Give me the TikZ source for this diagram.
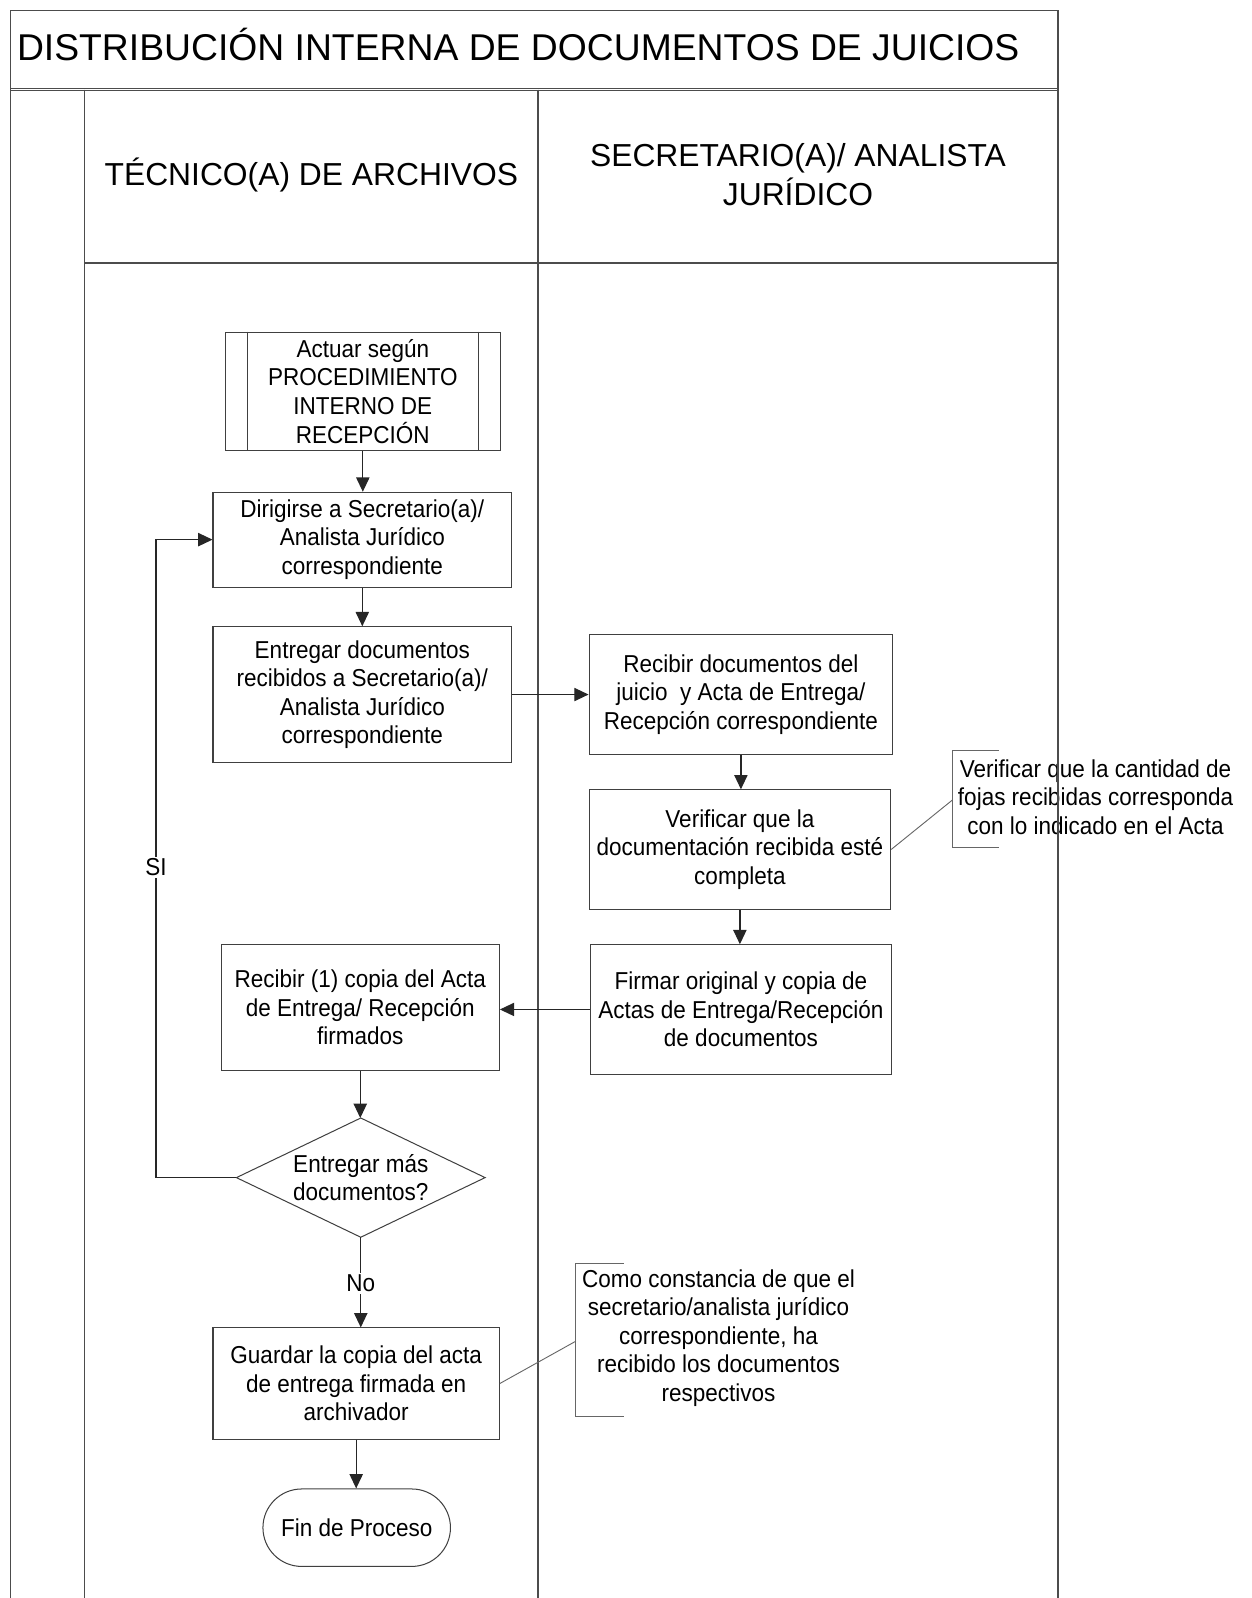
\documentclass[tikz,border=0pt]{standalone}
\usepackage{fontspec}
\setmainfont{Liberation Sans}
\newfontfamily\bodyfam{Liberation Sans}[FakeStretch=0.92]
\usetikzlibrary{arrows.meta}
\definecolor{boxc}{gray}{0.25}
\definecolor{framec}{gray}{0.3}
\definecolor{notec}{gray}{0.4}
\newcommand{\bodyfont}{\bodyfam\fontsize{24}{28}\selectfont}
\newcommand{\headfont}{\fontsize{31.2}{38}\selectfont}
\newcommand{\titlefont}{\fontsize{36.6}{40}\selectfont}
\begin{document}
\begin{tikzpicture}[x=1pt,y=-1pt,
  box/.style={draw=boxc, line width=1pt, rectangle, inner sep=0pt, align=center, font=\bodyfont},
  txt/.style={inner sep=0pt, align=center, font=\bodyfont},
  lbl/.style={inner sep=2pt, fill=white, font=\bodyfont},
  arr/.style={draw=black!85, line width=1.2pt, -{Triangle[length=14pt,width=13pt]}},
  note/.style={draw=notec, line width=0.9pt},
  frame/.style={draw=framec, line width=1.3pt}]
\useasboundingbox (0,0) rectangle (1228,1568);

% frame and lanes
\draw[frame] (10,1568) -- (10,10) -- (1038,10) -- (1038,1568);
\draw[frame, line width=1pt] (10,86.5) -- (1038,86.5);
\draw[frame, line width=1pt] (10,89) -- (1038,89);
\draw[frame] (83,88) -- (83,1568);
\draw[frame] (528,88) -- (528,1568);
\draw[frame] (83,258) -- (1038,258);

\node[inner sep=0pt, anchor=base west, font=\titlefont] (title) at (16.5,59) {DISTRIBUCIÓN INTERNA DE DOCUMENTOS DE JUICIOS};
\node[inner sep=0pt, align=center, font=\headfont] (h1) at (305.5,172) {TÉCNICO(A) DE ARCHIVOS};
\node[inner sep=0pt, align=center, font=\headfont] (h2) at (783,171) {SECRETARIO(A)/ ANALISTA\\JURÍDICO};

% nodes
\node[box, minimum width=270pt, minimum height=116pt] (n1) at (356,384) {Actuar según\\PROCEDIMIENTO\\INTERNO DE\\RECEPCIÓN};
\draw[draw=boxc, line width=1pt] ([xshift=22pt]n1.north west) -- ([xshift=22pt]n1.south west);
\draw[draw=boxc, line width=1pt] ([xshift=-22pt]n1.north east) -- ([xshift=-22pt]n1.south east);

\node[box, minimum width=293pt, minimum height=93pt] (n2) at (355.5,529.5) {Dirigirse a Secretario(a)/\\Analista Jurídico\\correspondiente};
\node[box, minimum width=293pt, minimum height=133pt] (n3) at (355.5,681.5) {Entregar documentos\\recibidos a Secretario(a)/\\Analista Jurídico\\correspondiente};
\node[box, minimum width=298pt, minimum height=117pt] (n4) at (727,681.5) {Recibir documentos del\\juicio\ \ y Acta de Entrega/\\Recepción correspondiente};
\node[box, minimum width=296pt, minimum height=117pt] (n5) at (726,833.5) {Verificar que la\\documentación recibida esté\\completa};
\node[box, minimum width=296pt, minimum height=127pt] (n6) at (727,990.5) {Firmar original y copia de\\Actas de Entrega/Recepción\\de documentos};
\node[box, minimum width=273pt, minimum height=123pt] (n7) at (353.5,988.5) {Recibir (1) copia del Acta\\de Entrega/ Recepción\\firmados};

% decision
\node[txt] (d) at (354,1155.5) {Entregar más\\documentos?};
\coordinate (dT) at (354,1097);
\coordinate (dB) at (354,1214);
\coordinate (dL) at (232,1155.5);
\coordinate (dR) at (476,1155.5);
\draw[draw=boxc, line width=1pt] (dT) -- (dR) -- (dB) -- (dL) -- cycle;

\node[box, minimum width=281pt, minimum height=109pt] (n9) at (349.5,1357.5) {Guardar la copia del acta\\de entrega firmada en\\archivador};
\node[box, minimum width=184pt, minimum height=76pt, rounded corners=38pt] (n10) at (350,1499) {Fin de Proceso};

% connectors
\draw[arr] (n1.south) -- (n1.south |- n2.north);
\draw[arr] (n2.south) -- (n2.south |- n3.north);
\draw[arr] (n3.east) -- (n4.west);
\draw[arr] (n4.south) -- (n4.south |- n5.north);
\draw[arr] (n5.south) -- (n5.south |- n6.north);
\draw[arr] (n6.west) -- (n6.west -| n7.east);
\draw[arr] (n7.south) -- (n7.south |- dT);
\coordinate (loop) at (153,1155.5);
\draw[arr] (dL) -- (loop) -- (loop |- n2.west) -- (n2.west);
\node[lbl] (si) at (153,851) {SI};
\draw[arr] (dB) -- (dB |- n9.north);
\node[lbl] (no) at (354,1259) {No};
\draw[arr] (n9.south) -- (n9.south |- n10.north);

% annotation 1
\coordinate (a1) at (934.5,785);
\draw[note] (980,736) -- (934.5,736) -- (934.5,831.5) -- (980,831.5);
\draw[note] (n5.east) -- (a1);
\node[txt] (t1) at (1075,782) {Verificar que la cantidad de\\fojas recibidas corresponda\\con lo indicado en el Acta};

% annotation 2
\coordinate (a2) at (565,1316);
\draw[note] (612,1240) -- (565,1240) -- (565,1390) -- (612,1390);
\draw[note] (n9.east) -- (a2);
\node[txt] (t2) at (705,1313) {Como constancia de que el\\secretario/analista jurídico\\correspondiente, ha\\recibido los documentos\\respectivos};

% frame right line over text
\draw[frame] (1038,700) -- (1038,900);
\end{tikzpicture}
\end{document}
